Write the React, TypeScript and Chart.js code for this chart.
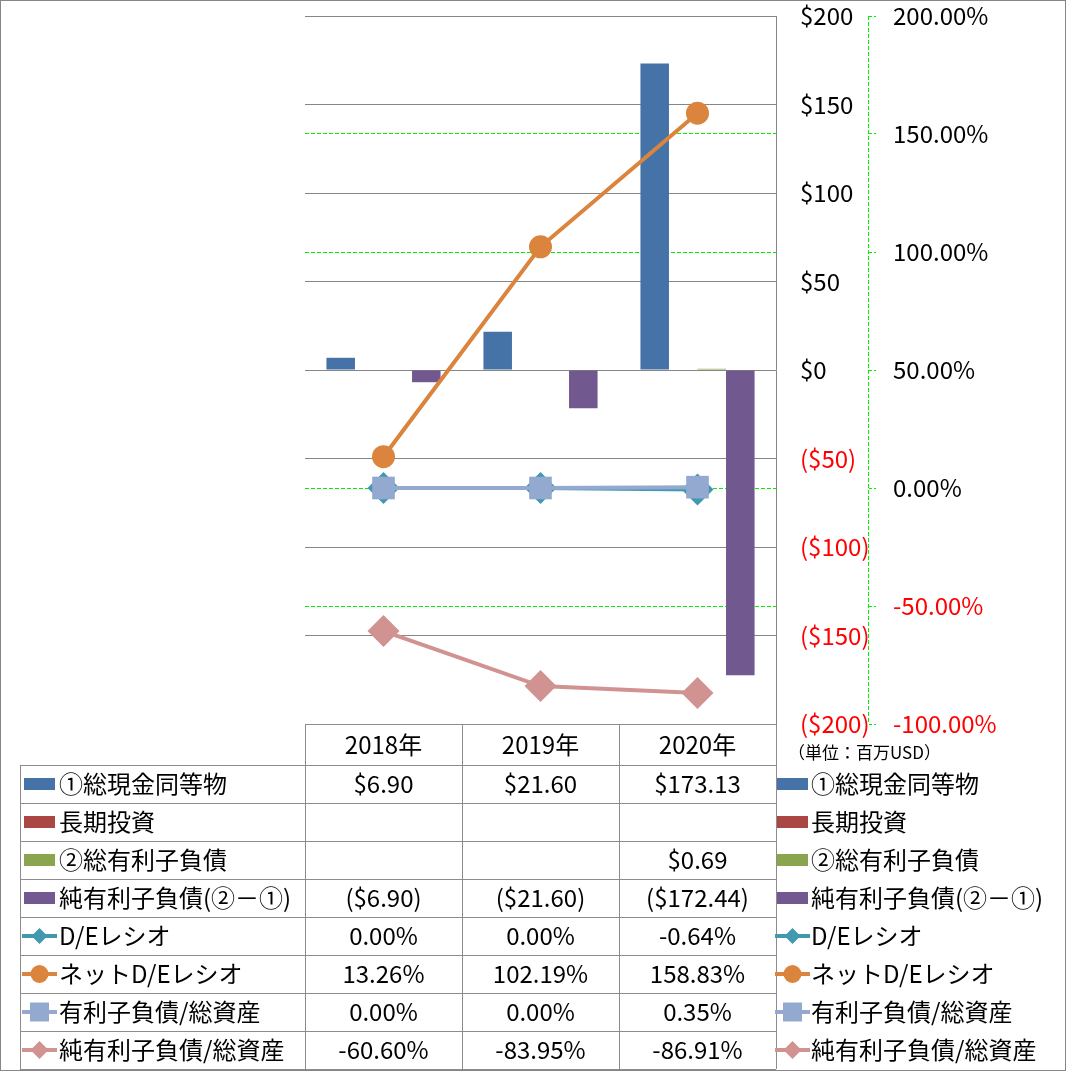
import React, { useEffect, useRef } from 'react';
import { Chart, registerables } from 'chart.js';

Chart.register(...registerables);

// ---------- data ----------
const years = ['2018年', '2019年', '2020年'];
const cashEquivalents: (number | null)[] = [6.9, 21.6, 173.13];
const longTermInvestments: (number | null)[] = [null, null, null];
const interestBearingDebt: (number | null)[] = [null, null, 0.69];
const netInterestBearingDebt: (number | null)[] = [-6.9, -21.6, -172.44];
const deRatio: (number | null)[] = [0, 0, -0.64];
const netDeRatio: (number | null)[] = [13.26, 102.19, 158.83];
const debtToAssets: (number | null)[] = [0, 0, 0.35];
const netDebtToAssets: (number | null)[] = [-60.6, -83.95, -86.91];

const moneyMin = -200;
const moneyMax = 200;
const moneyStep = 50;
const pctMin = -100;
const pctMax = 200;
const pctStep = 50;
const unitNote = '（単位：百万USD）';

// ---------- styles ----------
const FONT = '"Noto Sans CJK JP", "Noto Sans", sans-serif';
const GREEN = '#00f000';
const GRAY = '#868686';

const barSeries = [
  { label: '①総現金同等物', data: cashEquivalents, color: '#4572A7' },
  { label: '長期投資', data: longTermInvestments, color: '#AA4643' },
  { label: '②総有利子負債', data: interestBearingDebt, color: '#89A54E' },
  { label: '純有利子負債(②－①)', data: netInterestBearingDebt, color: '#71588F' },
];
const lineSeries = [
  { label: 'D/Eレシオ', data: deRatio, color: '#4198AF', point: 'rectRot', r: 16, lr: 8, order: 4 },
  { label: 'ネットD/Eレシオ', data: netDeRatio, color: '#DB843D', point: 'circle', r: 11.5, lr: 9, order: 3 },
  { label: '有利子負債/総資産', data: debtToAssets, color: '#93A9CF', point: 'rect', r: 16, lr: 9.5, order: 2 },
  { label: '純有利子負債/総資産', data: netDebtToAssets, color: '#D19392', point: 'rectRot', r: 16, lr: 9, order: 1 },
];

const fmtMoney = (v: number | null) =>
  v == null ? '' : v < 0 ? `($${(-v).toFixed(2)})` : `$${v.toFixed(2)}`;
const fmtPct = (v: number | null) => (v == null ? '' : `${v.toFixed(2)}%`);

function drawMarker(ctx: CanvasRenderingContext2D, style: string, x: number, y: number, r: number, color: string) {
  ctx.fillStyle = color;
  ctx.beginPath();
  if (style === 'circle') ctx.arc(x, y, r, 0, Math.PI * 2);
  else if (style === 'rectRot') {
    ctx.moveTo(x - r, y);
    ctx.lineTo(x, y - r);
    ctx.lineTo(x + r, y);
    ctx.lineTo(x, y + r);
    ctx.closePath();
  } else ctx.rect(x - r, y - r, 2 * r, 2 * r);
  ctx.fill();
}

type Row = { label: string; values: string[]; kind: 'bar' | 'line'; color: string; point?: string; lr?: number };

const rows: Row[] = [
  ...barSeries.map((s) => ({ label: s.label, values: s.data.map(fmtMoney), kind: 'bar' as const, color: s.color })),
  ...lineSeries.map((s) => ({ label: s.label, values: s.data.map(fmtPct), kind: 'line' as const, color: s.color, point: s.point, lr: s.lr })),
];

function drawKey(ctx: CanvasRenderingContext2D, row: Row, left: number, cy: number) {
  if (row.kind === 'bar') {
    ctx.fillStyle = row.color;
    ctx.fillRect(left + 2, cy - 6, 31, 12);
  } else {
    ctx.strokeStyle = row.color;
    ctx.lineWidth = 4;
    ctx.beginPath();
    ctx.moveTo(left, cy);
    ctx.lineTo(left + 35, cy);
    ctx.stroke();
    drawMarker(ctx, row.point!, left + 17.5, cy, row.lr!, row.color);
  }
}

const tablePlugin = {
  id: 'dataTable',
  afterDraw(chart: any) {
    const ctx: CanvasRenderingContext2D = chart.ctx;
    const xs = chart.scales.x;
    const area = chart.chartArea;
    const n = years.length;
    const bounds: number[] = [area.left];
    for (let i = 0; i < n - 1; i++) bounds.push((xs.getPixelForValue(i) + xs.getPixelForValue(i + 1)) / 2);
    bounds.push(area.right);
    const headerTop = area.bottom;
    const headerH = 41;
    const rowH = 38;
    const bodyTop = headerTop + headerH;
    const labelLeft = 20;
    const bodyBottom = bodyTop + rows.length * rowH;

    ctx.save();
    // dashed secondary axis line
    const y1 = chart.scales.y1;
    ctx.strokeStyle = GREEN;
    ctx.lineWidth = 1;
    ctx.setLineDash([4, 2]);
    ctx.beginPath();
    ctx.moveTo(Math.round(y1.left) + 0.5, area.top);
    ctx.lineTo(Math.round(y1.left) + 0.5, area.bottom);
    ctx.stroke();
    ctx.setLineDash([]);

    // outer border
    ctx.strokeStyle = GRAY;
    ctx.lineWidth = 1;
    ctx.strokeRect(0.5, 0.5, chart.width - 1, chart.height - 1);

    // table grid
    ctx.strokeStyle = '#8c8c8c';
    ctx.beginPath();
    const al = (v: number) => Math.round(v) + 0.5;
    ctx.moveTo(area.left, al(headerTop));
    ctx.lineTo(area.right, al(headerTop));
    for (let r = 0; r <= rows.length; r++) {
      const y = al(bodyTop + r * rowH);
      ctx.moveTo(labelLeft, y);
      ctx.lineTo(area.right, y);
    }
    ctx.moveTo(al(labelLeft), bodyTop);
    ctx.lineTo(al(labelLeft), bodyBottom);
    bounds.forEach((b) => {
      ctx.moveTo(al(b), headerTop);
      ctx.lineTo(al(b), bodyBottom);
    });
    ctx.stroke();

    // header text
    ctx.fillStyle = '#000';
    ctx.font = `24px ${FONT}`;
    ctx.textBaseline = 'middle';
    ctx.textAlign = 'center';
    for (let i = 0; i < n; i++) {
      ctx.fillText(years[i], (bounds[i] + bounds[i + 1]) / 2, headerTop + headerH / 2);
    }

    rows.forEach((row, r) => {
      const cy = bodyTop + r * rowH + rowH / 2;
      // left label
      drawKey(ctx, row, labelLeft + 2, cy);
      ctx.fillStyle = '#000';
      ctx.textAlign = 'left';
      ctx.fillText(row.label, labelLeft + 39, cy);
      // values
      ctx.textAlign = 'center';
      row.values.forEach((v, i) => {
        if (v) ctx.fillText(v, (bounds[i] + bounds[i + 1]) / 2, cy);
      });
      // right legend
      drawKey(ctx, row, area.right - 1, cy);
      ctx.fillStyle = '#000';
      ctx.textAlign = 'left';
      ctx.fillText(row.label, area.right + 35, cy);
    });

    // unit note
    ctx.font = `17px ${FONT}`;
    ctx.textAlign = 'left';
    ctx.fillText(unitNote, area.right + 12, headerTop + 29);
    ctx.restore();
  },
};

export default function App() {
  const ref = useRef<HTMLCanvasElement>(null);
  useEffect(() => {
    const canvas = ref.current!;
    const datasets: any[] = [
      ...barSeries.map((s) => ({
        type: 'bar',
        label: s.label,
        data: s.data,
        backgroundColor: s.color,
        borderWidth: 0,
        yAxisID: 'y',
        order: 10,
        categoryPercentage: 0.727,
        barPercentage: 1,
      })),
      ...lineSeries.map((s) => ({
        type: 'line',
        label: s.label,
        data: s.data,
        borderColor: s.color,
        backgroundColor: s.color,
        borderWidth: 4,
        pointStyle: s.point,
        pointRadius: s.r,
        pointBackgroundColor: s.color,
        pointBorderColor: s.color,
        pointBorderWidth: 0,
        tension: 0,
        yAxisID: 'y1',
        order: s.order,
        clip: false,
      })),
    ];
    const chart = new Chart(canvas, {
      type: 'bar',
      data: { labels: years, datasets },
      options: {
        responsive: false,
        animation: false,
        devicePixelRatio: 1,
        layout: { padding: { left: 305, top: 15, right: 48, bottom: 347 } },
        plugins: { legend: { display: false }, tooltip: { enabled: false } },
        scales: {
          x: { display: false, offset: true },
          y: {
            position: 'right',
            min: moneyMin,
            max: moneyMax,
            ticks: {
              stepSize: moneyStep,
              padding: 24,
              autoSkip: false,
              font: { family: FONT, size: 24 },
              color: (c: any) => (c.tick && c.tick.value < 0 ? '#ff0000' : '#000000'),
              callback: (v: any) => (v < 0 ? `($${-v})` : `$${v}`),
            },
            grid: { color: GRAY, lineWidth: 1, drawTicks: false, z: -1 },
            border: { display: true, color: GRAY, width: 1 },
            afterFit: (s: any) => {
              s.width = 92;
              s.paddingTop = 0;
              s.paddingBottom = 0;
            },
          } as any,
          y1: {
            position: 'right',
            min: pctMin,
            max: pctMax,
            ticks: {
              stepSize: pctStep,
              padding: 17,
              autoSkip: false,
              font: { family: FONT, size: 24 },
              color: (c: any) => (c.tick && c.tick.value < 0 ? '#ff0000' : '#000000'),
              callback: (v: any) => `${Number(v).toFixed(2)}%`,
            },
            grid: {
              color: GREEN,
              lineWidth: 1,
              drawTicks: true,
              tickLength: 8,
              tickColor: GREEN,
              tickBorderDash: [3, 2],
              z: -2,
            },
            border: { display: true, color: 'rgba(0,0,0,0)', width: 1, dash: [4, 2] },
            afterFit: (s: any) => {
              s.width = 150;
              s.paddingTop = 0;
              s.paddingBottom = 0;
            },
          } as any,
        },
      },
      plugins: [tablePlugin],
    } as any);
    return () => chart.destroy();
  }, []);
  return (
    <div style={{ position: 'absolute', left: 0, top: 0, width: 1066, height: 1071, background: '#fff' }}>
      <canvas ref={ref} width={1066} height={1071} style={{ display: 'block' }} />
    </div>
  );
}
